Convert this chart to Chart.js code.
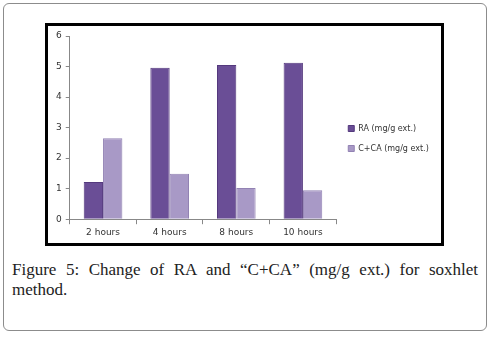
<!DOCTYPE html>
<html>
<head>
<meta charset="utf-8">
<script src="https://cdn.jsdelivr.net/npm/chart.js@4"></script>
<style>
  body { margin: 0; background: #fff; }
  #outer {
    position: absolute; left: 3px; top: 3px; width: 482px; height: 326px;
    border: 1px solid #8c8c8c; border-radius: 6px;
  }
  #frame {
    position: absolute; left: 45px; top: 23px; width: 399px; height: 223px;
    border: 3px solid #000; box-sizing: border-box; background: #fff;
  }
  #caption {
    position: absolute; left: 12px; top: 260px; width: 466px;
    font-family: "Liberation Serif", serif; font-size: 17px; line-height: 20px;
    word-spacing: 1px; text-align: justify; color: #222;
  }
</style>
</head>
<body>
<div id="outer"></div>
<div id="frame"><canvas id="myChart" width="393" height="217"></canvas></div>
<div id="caption">Figure 5: Change of RA and “C+CA” (mg/g ext.) for soxhlet method.</div>
<script>
var categories = ['2 hours', '4 hours', '8 hours', '10 hours'];
var raValues = [1.22, 4.96, 5.05, 5.12];
var ccaValues = [2.65, 1.49, 1.02, 0.95];
var yTicks = [0, 1, 2, 3, 4, 5, 6];

const ctx = document.getElementById('myChart');

new Chart(ctx, {
  type: 'bar',
  data: {
    labels: categories,
    datasets: [
      {
        label: 'RA (mg/g ext.)',
        data: raValues,
        backgroundColor: '#6a4e96',
        borderColor: '#54397d',
        borderWidth: 1,
      },
      {
        label: 'C+CA (mg/g ext.)',
        data: ccaValues,
        backgroundColor: '#a899c6',
        borderColor: '#9282b3',
        borderWidth: 1,
      },
    ],
  },
  options: {
    responsive: false,
    animation: false,
    layout: { padding: { top: 10, left: 4, right: 10, bottom: 2 } },
    categoryPercentage: 0.58,
    barPercentage: 1,
    plugins: {
      tooltip: { enabled: false },
      legend: {
        position: 'right',
        labels: {
          boxWidth: 6,
          boxHeight: 6,
          padding: 12,
          color: '#333',
          font: { family: 'DejaVu Sans', size: 8 },
        },
      },
    },
    scales: {
      x: {
        grid: { display: true, drawOnChartArea: false, tickLength: 5, color: '#888' },
        border: { color: '#888' },
        ticks: { color: '#333', font: { family: 'DejaVu Sans', size: 9 }, padding: 3 },
      },
      y: {
        min: 0,
        max: 6,
        afterBuildTicks: function (axis) {
          axis.ticks = yTicks.map(function (v) { return { value: v }; });
        },
        grid: { display: true, drawOnChartArea: false, tickLength: 4, color: '#888' },
        border: { color: '#888' },
        ticks: { color: '#333', font: { family: 'DejaVu Sans', size: 9 }, padding: 4 },
      },
    },
  },
});
</script>
</body>
</html>
